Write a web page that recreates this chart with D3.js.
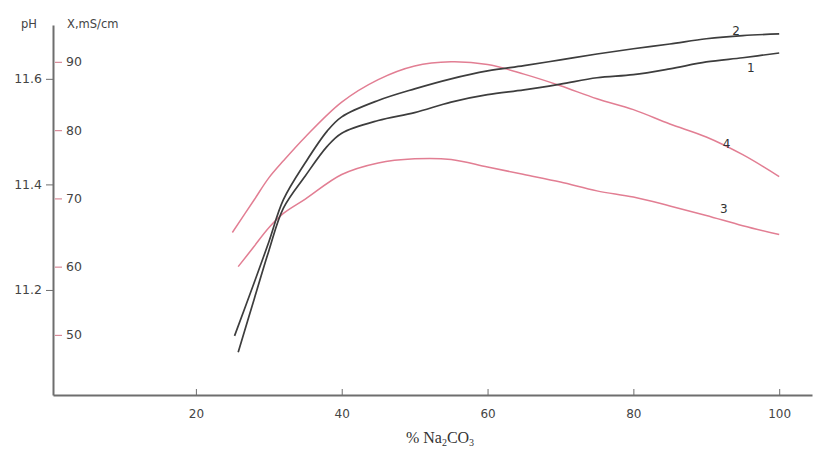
<!DOCTYPE html>
<html>
<head>
	<meta charset="utf-8">
	<title>pH and conductivity vs Na2CO3</title>
	<style>
		body { margin: 0; background: #fff; }
		svg text { font-family: "DejaVu Sans", sans-serif; fill: #444; }
		.curve { fill: none; }
	</style>
</head>
<body>
	<div id="chart"></div>
	<script src="https://cdn.jsdelivr.net/npm/d3@7"></script>
	<script>
		(function () {

			// % Na2CO3 (x) against pH (curves 1, 2) and conductivity X, mS/cm (curves 3, 4)
			var xTicks = [20, 40, 60, 80, 100];
			var phTicks = [11.2, 11.4, 11.6];
			var msTicks = [50, 60, 70, 80, 90];

			var curve1X = [25.8, 28, 30, 32, 35, 38, 40, 45, 50, 55, 60, 65, 70, 75, 80, 85, 90, 95, 100];
			var curve1Y = [11.082, 11.183, 11.274, 11.355, 11.416, 11.472, 11.497, 11.521, 11.536, 11.556, 11.570, 11.579, 11.590, 11.602, 11.608, 11.619, 11.632, 11.640, 11.649];

			var curve2X = [25.3, 28, 30, 32, 35, 38, 40, 45, 50, 55, 60, 65, 70, 75, 80, 85, 90, 95, 100];
			var curve2Y = [11.113, 11.214, 11.291, 11.371, 11.441, 11.501, 11.528, 11.559, 11.581, 11.600, 11.615, 11.625, 11.636, 11.647, 11.657, 11.666, 11.676, 11.682, 11.685];

			var curve3X = [25.8, 28, 30, 32, 35, 40, 45, 50, 55, 60, 65, 70, 75, 80, 85, 90, 95, 100];
			var curve3Y = [60.0, 63.0, 65.7, 67.8, 69.9, 73.5, 75.2, 75.8, 75.7, 74.6, 73.5, 72.4, 71.1, 70.2, 68.9, 67.5, 66.0, 64.7];

			var curve4X = [25, 28, 30, 32, 35, 40, 45, 50, 55, 60, 65, 70, 75, 80, 85, 90, 95, 100];
			var curve4Y = [65.0, 69.8, 73.0, 75.5, 79.0, 84.1, 87.4, 89.4, 90.0, 89.6, 88.2, 86.5, 84.6, 83.0, 80.9, 79.0, 76.4, 73.2];

			// curve number labels: name, x value, y value
			var labelNames = ['1', '2', '3', '4'];
			var labelX = [96.1, 94.1, 92.4, 92.8];
			var labelY = [11.620, 11.690, 68.5, 77.9];

			var width = 818, height = 450;

			var svg = d3.select('#chart')
				.append('svg')
				.attr('width', width)
				.attr('height', height);

			var x = d3.scaleLinear().domain([0.4, 104.5]).range([53, 812]);
			var yPh = d3.scaleLinear().domain([11.001, 11.702]).range([395, 25]);
			var yMs = d3.scaleLinear().domain([41.2, 95.4]).range([395, 25]);

			var axisColor = '#6e6e6e';
			var pink = '#e27e93';
			var dark = '#3d3d3d';

			// x axis, ticks pointing up
			var gx = svg.append('g')
				.attr('transform', 'translate(0,' + yPh.range()[0] + ')')
				.call(d3.axisBottom(x).tickValues(xTicks).tickSize(-6).tickSizeOuter(0).tickPadding(10));
			gx.select('.domain').attr('stroke', axisColor).attr('stroke-width', 2);
			gx.selectAll('.tick line').attr('stroke', axisColor);
			gx.selectAll('.tick text').attr('font-size', 12).attr('fill', '#444').attr('dy', '1.1em')
				.attr('font-family', '"DejaVu Sans", sans-serif');

			// pH axis, ticks to the left
			var gph = svg.append('g')
				.attr('transform', 'translate(' + x.range()[0] + ',0)')
				.call(d3.axisLeft(yPh).tickValues(phTicks).tickFormat(d3.format('.1f')).tickSize(7).tickSizeOuter(0).tickPadding(4));
			gph.select('.domain').attr('stroke', axisColor).attr('stroke-width', 2);
			gph.selectAll('.tick line').attr('stroke', axisColor);
			gph.selectAll('.tick text').attr('font-size', 12.5).attr('fill', '#444')
				.attr('font-family', '"DejaVu Sans", sans-serif');

			// conductivity axis, ticks to the right on the same line
			var gms = svg.append('g')
				.attr('transform', 'translate(' + (x.range()[0] + 2) + ',0)')
				.call(d3.axisRight(yMs).tickValues(msTicks).tickSize(7).tickPadding(4));
			gms.select('.domain').remove();
			gms.selectAll('.tick line').attr('stroke', '#d98a98').attr('stroke-width', 1.2);
			gms.selectAll('.tick text').attr('font-size', 12.5).attr('fill', '#444')
				.attr('font-family', '"DejaVu Sans", sans-serif');

			// axis titles
			svg.append('text').attr('x', 29).attr('y', 24).attr('text-anchor', 'middle')
				.attr('dominant-baseline', 'central').attr('font-size', 11.5).text('pH');
			svg.append('text').attr('x', 67).attr('y', 24)
				.attr('dominant-baseline', 'central').attr('font-size', 11.5).text('X,mS/cm');

			var title = svg.append('text')
				.attr('x', 440).attr('y', 443).attr('text-anchor', 'middle')
				.style('font-family', '"Liberation Serif", "DejaVu Serif", serif')
				.attr('font-size', 16).style('fill', '#333');
			title.append('tspan').text('% Na');
			title.append('tspan').attr('font-size', 10).attr('dy', 3).text('2');
			title.append('tspan').attr('dy', -3).text('CO');
			title.append('tspan').attr('font-size', 10).attr('dy', 3).text('3');

			// curves
			function draw(xs, ys, yScale, color, w) {
				var pts = xs.map(function (d, i) { return [d, ys[i]]; });
				var lineFn = d3.line()
					.x(function (d) { return x(d[0]); })
					.y(function (d) { return yScale(d[1]); })
					.curve(d3.curveCatmullRom.alpha(0.5));
				svg.append('path')
					.attr('class', 'curve')
					.attr('d', lineFn(pts))
					.attr('stroke', color)
					.attr('stroke-width', w);
			}

			draw(curve4X, curve4Y, yMs, pink, 1.5);
			draw(curve3X, curve3Y, yMs, pink, 1.5);
			draw(curve2X, curve2Y, yPh, dark, 1.7);
			draw(curve1X, curve1Y, yPh, dark, 1.7);

			// curve numbers
			labelNames.forEach(function (name, i) {
				var ys = i < 2 ? yPh : yMs;
				svg.append('text')
					.attr('x', x(labelX[i]))
					.attr('y', ys(labelY[i]))
					.attr('text-anchor', 'middle')
					.attr('dominant-baseline', 'central')
					.attr('font-size', 12)
					.style('fill', '#333')
					.text(name);
			});

		})();
	</script>
</body>
</html>
